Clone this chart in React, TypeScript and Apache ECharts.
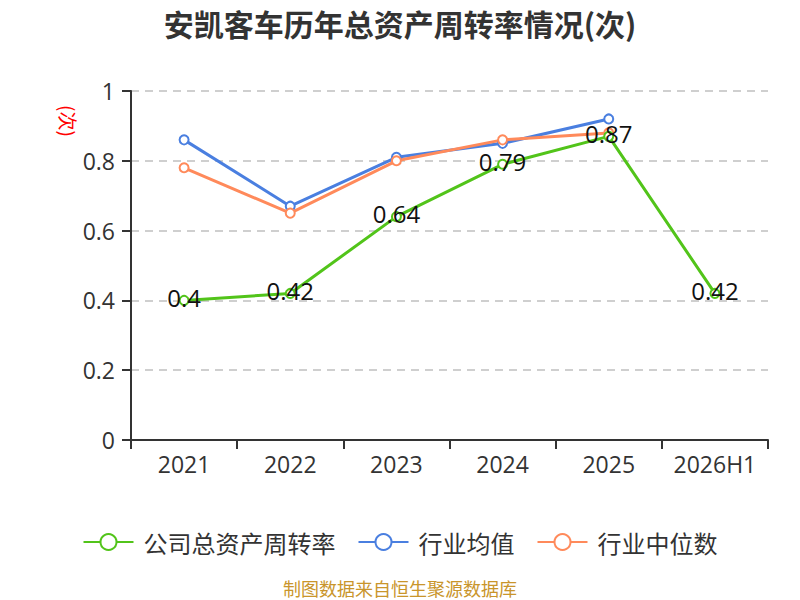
import React, { useEffect, useRef } from "react";
import * as echarts from "echarts";

const categories = ["2021", "2022", "2023", "2024", "2025", "2026H1"];
const companyValues = [0.4, 0.42, 0.64, 0.79, 0.87, 0.42];
const industryAvg = [0.86, 0.67, 0.81, 0.85, 0.92, null];
const industryMedian = [0.78, 0.65, 0.8, 0.86, 0.88, null];
const yTicks = [0, 0.2, 0.4, 0.6, 0.8, 1];

const FONT = "'Open Sans', 'Noto Sans CJK SC', sans-serif";
const CJK = "'Noto Sans CJK SC', 'Open Sans', sans-serif";

export default function App() {
  const ref = useRef<HTMLDivElement>(null);
  useEffect(() => {
    const chart = echarts.init(ref.current!, undefined, { renderer: "svg" });
    chart.setOption({
      animation: false,
      textStyle: { fontFamily: FONT },
      title: {
        text: "安凯客车历年总资产周转率情况(次)",
        left: "center",
        top: 3,
        textStyle: { fontSize: 30, fontWeight: "bold", color: "#333", fontFamily: CJK },
      },
      grid: { left: 131, right: 32, top: 91, bottom: 160, containLabel: false },
      legend: {
        top: 525,
        left: "center",
        itemWidth: 50,
        itemHeight: 20,
        itemGap: 22,
        textStyle: { fontSize: 24, color: "#333", fontFamily: CJK, padding: [0, 0, 0, 5] },
        data: ["公司总资产周转率", "行业均值", "行业中位数"],
      },
      graphic: [
        {
          type: "text",
          x: 400,
          y: 588,
          style: {
            text: "制图数据来自恒生聚源数据库",
            fill: "#c9952b",
            fontSize: 18,
            fontFamily: CJK,
            textAlign: "center",
            textVerticalAlign: "middle",
          },
        },
        {
          type: "text",
          x: 68,
          y: 121,
          rotation: -Math.PI / 2,
          style: {
            text: "(次)",
            fill: "#ff0000",
            fontSize: 19,
            fontFamily: CJK,
            textAlign: "center",
            textVerticalAlign: "middle",
          },
        },
      ],
      xAxis: {
        type: "category",
        data: categories,
        boundaryGap: true,
        axisLine: { lineStyle: { color: "#333", width: 2 } },
        axisTick: { show: true, interval: 0, length: 9, lineStyle: { color: "#333", width: 2 } },
        axisLabel: { interval: 0, fontSize: 23, color: "#333", margin: 12, fontFamily: FONT },
      },
      yAxis: {
        type: "value",
        min: 0,
        max: 1,
        interval: 0.2,
        axisLine: { show: true, lineStyle: { color: "#333", width: 2 } },
        axisTick: { show: true, length: 9, lineStyle: { color: "#333", width: 2 } },
        axisLabel: {
          fontSize: 23,
          color: "#333",
          margin: 16,
          fontFamily: FONT,
          formatter: (v: number) => {
            const t = yTicks.find((x) => Math.abs(x - v) < 1e-6);
            return t === undefined ? "" : String(t);
          },
        },
        splitLine: { lineStyle: { type: [8, 6], color: "#c0c0c0", width: 1.5 } },
      },
      series: [
        {
          name: "公司总资产周转率",
          type: "line",
          data: companyValues,
          symbol: "emptyCircle",
          symbolSize: 9,
          z: 3,
          lineStyle: { color: "#52c41a", width: 3 },
          itemStyle: { color: "#52c41a", borderWidth: 1.5 },
          label: {
            show: true,
            position: "inside",
            offset: [0, -3],
            fontSize: 24,
            color: "#111",
            fontFamily: FONT,
          },
        },
        {
          name: "行业均值",
          type: "line",
          data: industryAvg,
          symbol: "emptyCircle",
          symbolSize: 9,
          z: 2,
          lineStyle: { color: "#4a7fe0", width: 3 },
          itemStyle: { color: "#4a7fe0", borderWidth: 1.5 },
        },
        {
          name: "行业中位数",
          type: "line",
          data: industryMedian,
          symbol: "emptyCircle",
          symbolSize: 9,
          z: 2,
          lineStyle: { color: "#ff8a5b", width: 3 },
          itemStyle: { color: "#ff8a5b", borderWidth: 1.5 },
        },
      ],
    });
    return () => chart.dispose();
  }, []);
  return (
    <div
      ref={ref}
      style={{ position: "absolute", left: 0, top: 0, width: 800, height: 600 }}
    />
  );
}
